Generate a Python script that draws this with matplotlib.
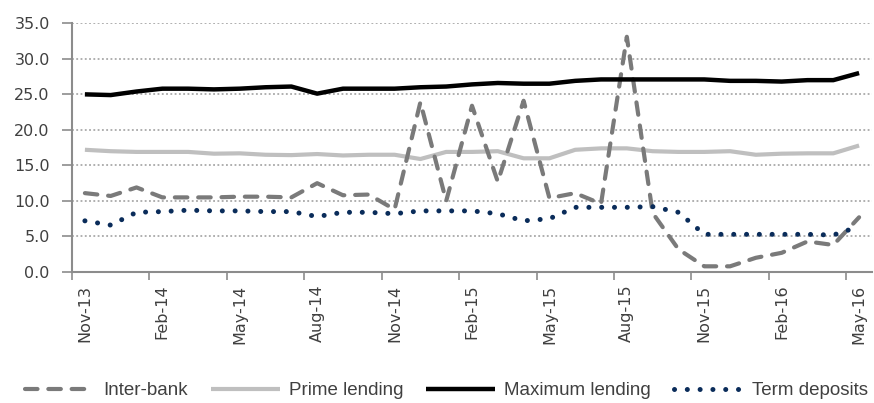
import matplotlib
matplotlib.use("Agg")
import matplotlib.pyplot as plt
import pandas as pd
import numpy as np

# Monthly categories, Nov-13 .. May-16
months = pd.date_range("2013-11-01", periods=31, freq="MS").strftime("%b-%y").tolist()

inter_bank = [11.1, 10.7, 11.9, 10.5, 10.5, 10.5, 10.6, 10.6, 10.5, 12.5, 10.8,
              10.9, 8.8, 23.9, 10.0, 23.4, 12.7, 24.1, 10.4, 11.1, 9.6, 33.1,
              8.3, 3.2, 0.8, 0.8, 2.0, 2.7, 4.3, 3.8, 7.7]
prime_lending = [17.2, 17.0, 16.9, 16.9, 16.9, 16.65, 16.7, 16.5, 16.45, 16.6, 16.4,
                 16.5, 16.5, 15.9, 16.9, 16.9, 17.0, 16.0, 16.0, 17.2, 17.4, 17.4,
                 17.0, 16.9, 16.9, 17.0, 16.5, 16.65, 16.7, 16.7, 17.8]
maximum_lending = [25.0, 24.9, 25.4, 25.8, 25.8, 25.7, 25.8, 26.0, 26.1, 25.1, 25.8,
                   25.8, 25.8, 26.0, 26.1, 26.4, 26.6, 26.5, 26.5, 26.9, 27.1, 27.1,
                   27.1, 27.1, 27.1, 26.9, 26.9, 26.8, 27.0, 27.0, 28.0]
term_deposits = [7.2, 6.6, 8.4, 8.5, 8.7, 8.6, 8.6, 8.5, 8.5, 7.8, 8.4,
                 8.4, 8.2, 8.6, 8.6, 8.6, 8.2, 7.2, 7.5, 9.1, 9.1, 9.1,
                 9.2, 8.4, 5.3, 5.3, 5.3, 5.3, 5.3, 5.2, 6.4]

y_ticks = [0, 5, 10, 15, 20, 25, 30, 35]

text_color = "#404040"
axis_color = "#8c8c8c"

fig = plt.figure(figsize=(8.74, 4.03), dpi=100)
ax = fig.add_axes([72 / 874, 1 - 272 / 403, 800 / 874, (272 - 23.3) / 403])

x = np.arange(len(months))

ax.plot(x, inter_bank, color="#7a7a7a", lw=3.0, linestyle=(0, (3.0, 2.6)),
        dash_capstyle="round", label="Inter-bank", zorder=3)
ax.plot(x, prime_lending, color="#bfbfbf", lw=3.0, solid_capstyle="butt",
        label="Prime lending", zorder=2)
ax.plot(x, maximum_lending, color="#000000", lw=3.2, solid_capstyle="butt",
        label="Maximum lending", zorder=4)
ax.plot(x, term_deposits, color="#0a2c5a", lw=3.6, linestyle=(0, (0.01, 2.55)),
        dash_capstyle="round", label="Term deposits", zorder=5)

ax.set_xlim(-0.5, len(months) - 0.5)
ax.set_ylim(0, 35)

# Tick marks sit on category boundaries; labels on every third category
ax.set_xticks(np.arange(-0.5, len(months), 3))
ax.set_xticklabels([])
ax.set_xticks(x[::3], minor=True)
ax.set_xticklabels(months[::3], minor=True, rotation=90, fontsize=11.5,
                   color=text_color, family="DejaVu Sans")
ax.tick_params(axis="x", which="major", length=6, width=1.2, color=axis_color)
ax.tick_params(axis="x", which="minor", length=0, pad=9)

ax.set_yticks(y_ticks)
ax.set_yticklabels([f"{v:.1f}" for v in y_ticks], fontsize=11.5,
                   color=text_color, family="DejaVu Sans")
ax.tick_params(axis="y", length=7, width=1.2, color=axis_color, pad=9)

ax.yaxis.grid(True, color="#9a9a9a", linestyle=(0, (1.2, 1.6)), lw=1.1)
ax.set_axisbelow(True)

for side in ("top", "right"):
    ax.spines[side].set_visible(False)
for side in ("left", "bottom"):
    ax.spines[side].set_color(axis_color)
    ax.spines[side].set_linewidth(1.5)

leg = fig.legend(loc="center", bbox_to_anchor=(0.511, 0.03), ncol=4,
                 frameon=False, handlelength=3.7, handletextpad=0.48,
                 columnspacing=1.2, prop={"family": "Liberation Sans", "size": 13.5})
for t in leg.get_texts():
    t.set_color(text_color)

fig.savefig("out.png", dpi=100)
